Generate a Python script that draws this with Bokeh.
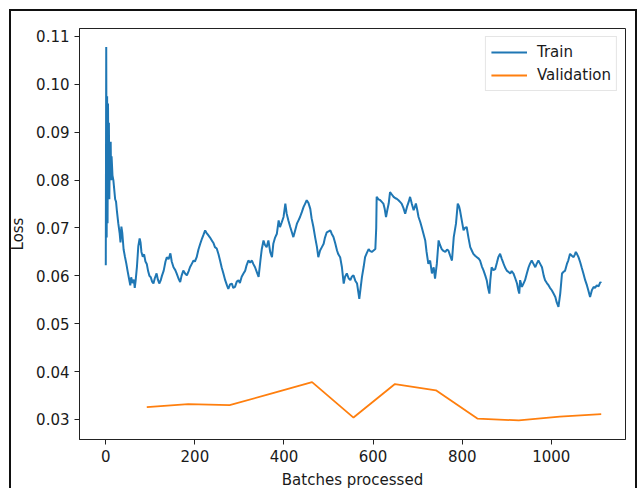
from bokeh.plotting import figure
from bokeh.models import Range1d, FixedTicker, Legend, LegendItem, NumeralTickFormatter
from bokeh.embed import file_html
from bokeh.resources import INLINE

train_batch = [0, 1, 2, 3, 4, 5, 6, 7, 8, 9, 10, 11, 12, 13, 15, 17, 19, 21, 23, 25, 28, 31, 33, 35, 37, 40, 43, 46, 49, 52, 55, 57, 60, 63, 65, 67, 70, 73, 76, 78, 80, 83, 86, 89, 92, 95, 98, 101, 104, 107, 110, 114, 117, 120, 123,
               126, 130, 134, 137, 141, 145, 148, 152, 156, 159, 163, 167, 170, 174, 178, 182, 186, 189, 193, 197, 200, 204, 208, 212, 216, 219, 223, 226, 230, 234, 238, 242, 245, 249, 253, 257, 260, 264, 268, 272, 275, 279, 283, 286, 290, 294, 298,
               301, 305, 309, 313, 316, 320, 324, 328, 331, 335, 339, 343, 347, 350, 354, 357, 361, 365, 369, 373, 376, 380, 384, 388, 391, 395, 399, 403, 406, 410, 414, 418, 421, 425, 429, 432, 436, 440, 444, 447, 451, 455, 459, 462, 466, 470, 474, 477,
               481, 485, 489, 492, 496, 500, 504, 507, 511, 515, 519, 522, 526, 530, 534, 537, 541, 545, 549, 552, 556, 560, 564, 567, 569, 572, 575, 579, 582, 586, 590, 593, 597, 601, 605, 607, 608, 612, 616, 619, 623, 626, 629, 632, 635, 638, 642, 646, 650, 653, 657,
               661, 664, 668, 672, 676, 680, 683, 687, 691, 694, 696, 699, 702, 706, 709, 713, 717, 720, 724, 728, 732, 736, 739, 743, 747, 750, 754, 758, 762, 766, 769, 773, 777, 781, 786, 788, 790, 793, 795, 799,
               803, 806, 810, 814, 818, 822, 825, 829, 833, 837, 840, 844, 848, 852, 855, 858, 861, 863, 866, 870, 874, 878, 881, 885, 889, 893, 896, 900, 904, 908, 911, 915, 919, 923, 926, 928, 930, 934, 938, 941, 945, 949, 952, 956, 960, 964, 967, 971, 975, 979,
               983, 986, 990, 994, 997, 1001, 1005, 1009, 1012, 1016, 1020, 1024, 1027, 1031, 1035, 1038, 1042, 1046, 1050, 1053, 1055, 1058, 1061, 1065, 1068, 1072, 1076, 1080, 1083, 1087, 1091, 1095, 1098, 1102, 1106, 1110, 1112]
train_loss = [0.0622, 0.1078, 0.0680, 0.0975, 0.0710, 0.0960, 0.0800, 0.0920, 0.0760, 0.0880, 0.0820, 0.0880, 0.0800, 0.0850, 0.0810, 0.0800, 0.0780, 0.0760, 0.0755, 0.0735, 0.0710, 0.0690, 0.0670, 0.0703, 0.0690, 0.0655, 0.0640, 0.0626, 0.0610, 0.0595, 0.0580, 0.0597, 0.0585, 0.0592, 0.0575, 0.0590, 0.0620, 0.0662, 0.0678, 0.0670, 0.0650, 0.0640, 0.0645, 0.0630, 0.0625, 0.0610, 0.0600, 0.0597, 0.0588, 0.0584, 0.0595, 0.0605, 0.0592, 0.0584, 0.0590,
              0.0600, 0.0611, 0.0630, 0.0639, 0.0635, 0.0647, 0.0630, 0.0618, 0.0612, 0.0605, 0.0595, 0.0587, 0.0600, 0.0611, 0.0605, 0.0601, 0.0610, 0.0618, 0.0625, 0.0632, 0.0630, 0.0639, 0.0655, 0.0667, 0.0678, 0.0685, 0.0695, 0.0690, 0.0685, 0.0680, 0.0674, 0.0668, 0.0660, 0.0657, 0.0645, 0.0630, 0.0618, 0.0605, 0.0591, 0.0580, 0.0573, 0.0582, 0.0584, 0.0575, 0.0577, 0.0588, 0.0591,
              0.0585, 0.0598, 0.0605, 0.0611, 0.0622, 0.0632, 0.0628, 0.0632, 0.0625, 0.0618, 0.0608, 0.0598, 0.0632, 0.0655, 0.0674, 0.0665, 0.0660, 0.0674, 0.0650, 0.0639, 0.0667, 0.0680, 0.0688, 0.0716, 0.0702, 0.0712, 0.0723, 0.0751, 0.0730, 0.0715, 0.0702, 0.0690, 0.0681, 0.0695, 0.0709, 0.0715, 0.0723, 0.0733, 0.0744, 0.0750, 0.0758, 0.0752, 0.0740, 0.0720, 0.0702, 0.0680, 0.0660, 0.0639,
              0.0653, 0.0660, 0.0667, 0.0680, 0.0691, 0.0693, 0.0695, 0.0688, 0.0681, 0.0668, 0.0653, 0.0645, 0.0639, 0.0618, 0.0584, 0.0598, 0.0605, 0.0595, 0.0591, 0.0598, 0.0601, 0.0590, 0.0584, 0.0565, 0.0552, 0.0575, 0.0598, 0.0620, 0.0639, 0.0648, 0.0656, 0.0652, 0.0650, 0.0653, 0.0656, 0.0700, 0.0765, 0.0760, 0.0758, 0.0755, 0.0751, 0.0740, 0.0723, 0.0738, 0.0751, 0.0775, 0.0770, 0.0765, 0.0762, 0.0761, 0.0758,
              0.0754, 0.0751, 0.0742, 0.0730, 0.0744, 0.0755, 0.0765, 0.0750, 0.0737, 0.0745, 0.0751, 0.0738, 0.0723, 0.0712, 0.0702, 0.0688, 0.0674, 0.0650, 0.0625, 0.0632, 0.0605, 0.0618, 0.0594, 0.0625, 0.0674, 0.0665, 0.0656, 0.0652, 0.0650, 0.0655, 0.0653, 0.0642, 0.0632, 0.0681, 0.0709, 0.0730, 0.0751, 0.0745, 0.0737, 0.0716,
              0.0695, 0.0700, 0.0702, 0.0680, 0.0660, 0.0652, 0.0646, 0.0642, 0.0639, 0.0636, 0.0632, 0.0620, 0.0611, 0.0600, 0.0591, 0.0575, 0.0563, 0.0590, 0.0618, 0.0612, 0.0614, 0.0628, 0.0639, 0.0646, 0.0635, 0.0625, 0.0618, 0.0611, 0.0608, 0.0605, 0.0610, 0.0605, 0.0595, 0.0584, 0.0570, 0.0563, 0.0591, 0.0577, 0.0585, 0.0591, 0.0605, 0.0618, 0.0625, 0.0632, 0.0625, 0.0618, 0.0625, 0.0632, 0.0625, 0.0618,
              0.0600, 0.0591, 0.0585, 0.0580, 0.0575, 0.0570, 0.0563, 0.0556, 0.0545, 0.0535, 0.0563, 0.0605, 0.0608, 0.0611, 0.0625, 0.0632, 0.0646, 0.0642, 0.0639, 0.0645, 0.0650, 0.0645, 0.0639, 0.0628, 0.0618, 0.0605, 0.0591, 0.0580, 0.0570, 0.0556, 0.0570, 0.0577, 0.0575, 0.0580, 0.0578, 0.0587, 0.0585]

val_batch = [92, 185, 278, 371, 463, 556, 649, 741, 834, 927, 1019, 1112]
val_loss = [0.0326, 0.0332, 0.0330, 0.0354, 0.0378, 0.0304, 0.0374, 0.0361, 0.0302, 0.0298, 0.0306, 0.0311]

x_ticks = [0, 200, 400, 600, 800, 1000]
y_ticks = [0.03, 0.04, 0.05, 0.06, 0.07, 0.08, 0.09, 0.10, 0.11]

FONT = "DejaVu Sans"

p = figure(output_backend="svg", toolbar_location=None,
           frame_width=546, frame_height=411,
           min_border_left=79, min_border_right=13, min_border_top=28, min_border_bottom=49,
           x_range=Range1d(-59, 1166.5), y_range=Range1d(0.02582, 0.11167),
           background_fill_color="white", border_fill_color="white", border_fill_alpha=0)

# outer screenshot border (left, top, right edges) drawn as CSS background behind the transparent canvas border area
p.styles = {
    "background": ("linear-gradient(#111, #111) 9px 9px / 2px 100% no-repeat, "
                   "linear-gradient(#111, #111) 9px 9px / 628px 2px no-repeat, "
                   "linear-gradient(#111, #111) 635px 9px / 2px 100% no-repeat, white"),
}

r_train = p.line(train_batch, train_loss, line_color="#1f77b4", line_width=2)
r_val = p.line(val_batch, val_loss, line_color="#ff7f0e", line_width=1.8)

p.grid.visible = False
p.outline_line_color = "#222222"
p.outline_line_width = 1

for ax in (p.xaxis[0], p.yaxis[0]):
    ax.axis_line_color = "#222222"
    ax.major_tick_line_color = "#222222"
    ax.major_tick_in = 0
    ax.major_tick_out = 5
    ax.minor_tick_line_color = None
    ax.major_label_text_font = FONT
    ax.major_label_text_font_size = "15px"
    ax.major_label_text_color = "#1a1a1a"
    ax.axis_label_text_font = FONT
    ax.axis_label_text_font_size = "15px"
    ax.axis_label_text_font_style = "normal"
    ax.axis_label_text_color = "#1a1a1a"
    ax.major_label_standoff = 5
    ax.axis_label_standoff = 6

p.xaxis[0].ticker = FixedTicker(ticks=x_ticks)
p.yaxis[0].ticker = FixedTicker(ticks=y_ticks)
p.yaxis[0].formatter = NumeralTickFormatter(format="0.00")
p.xaxis[0].axis_label = "Batches processed"
p.yaxis[0].axis_label = "Loss"

legend = Legend(items=[LegendItem(label="Train", renderers=[r_train]),
                       LegendItem(label="Validation", renderers=[r_val])],
                location="top_right", margin=8, padding=5, spacing=3,
                glyph_width=36, glyph_height=20, label_height=20, label_standoff=10,
                label_text_font=FONT, label_text_font_size="15px", label_text_color="#1a1a1a",
                border_line_color="#cccccc", border_line_width=1,
                background_fill_color="white", background_fill_alpha=0.8)
p.add_layout(legend)

open("out.html", "w").write(file_html(p, INLINE))
